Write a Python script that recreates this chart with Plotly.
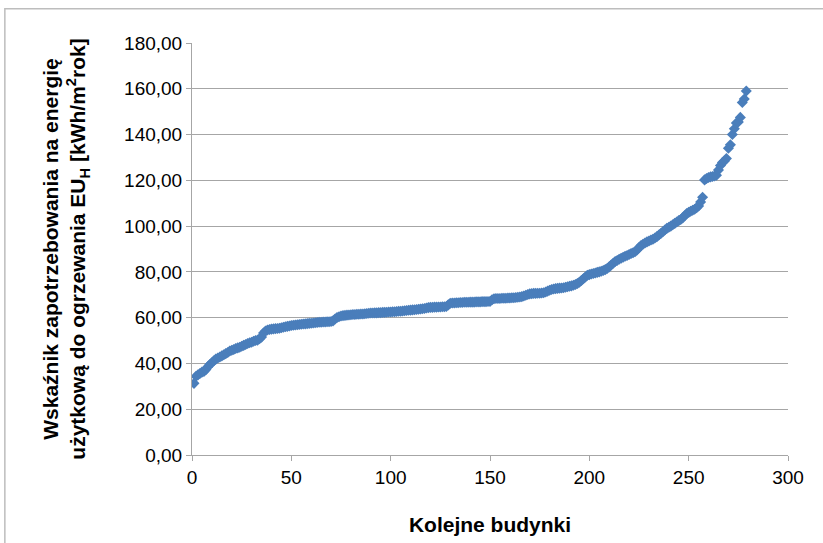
import plotly.graph_objects as go

# Building index (sorted) and heating-demand indicator EU_H [kWh/m2 rok]
eu_values = [
    31.3, 34.4, 35.0, 35.6, 36.2, 36.5, 37.3, 38.6, 39.5, 40.3,
    41.2, 41.9, 42.4, 42.8, 43.3, 43.8, 44.3, 44.8, 45.4, 45.8,
    46.1, 46.5, 46.8, 47.1, 47.5, 47.9, 48.3, 48.7, 49.0, 49.3,
    49.7, 50.0, 50.2, 50.8, 51.5, 53.3, 54.2, 54.6, 54.8, 55.0,
    55.1, 55.2, 55.3, 55.4, 55.6, 55.8, 56.0, 56.2, 56.4, 56.6,
    56.7, 56.8, 56.9, 57.0, 57.1, 57.2, 57.3, 57.4, 57.5, 57.6,
    57.7, 57.8, 57.9, 58.0, 58.0, 58.1, 58.1, 58.2, 58.2, 58.3,
    58.6, 59.4, 60.1, 60.4, 60.7, 60.9, 61.0, 61.1, 61.2, 61.3,
    61.4, 61.4, 61.5, 61.5, 61.6, 61.6, 61.7, 61.8, 61.9, 62.0,
    62.0, 62.1, 62.1, 62.2, 62.2, 62.3, 62.3, 62.4, 62.5, 62.5,
    62.6, 62.6, 62.7, 62.8, 62.8, 62.9, 63.0, 63.1, 63.2, 63.3,
    63.4, 63.5, 63.6, 63.7, 63.8, 63.9, 64.0, 64.2, 64.4, 64.5,
    64.5, 64.6, 64.6, 64.7, 64.7, 64.8, 64.8, 64.9, 65.6, 66.3,
    66.4, 66.4, 66.5, 66.5, 66.6, 66.6, 66.7, 66.7, 66.7, 66.8,
    66.8, 66.8, 66.9, 66.9, 66.9, 67.0, 67.0, 67.0, 67.1, 67.1,
    67.8, 68.3, 68.4, 68.4, 68.4, 68.5, 68.5, 68.5, 68.6, 68.6,
    68.7, 68.7, 68.8, 68.9, 69.0, 69.2, 69.5, 69.8, 70.1, 70.4,
    70.5, 70.6, 70.6, 70.7, 70.7, 70.8, 70.9, 71.2, 71.6, 72.0,
    72.3, 72.5, 72.7, 72.8, 72.9, 73.0, 73.1, 73.3, 73.5, 73.7,
    73.9, 74.2, 74.5, 74.9, 75.5, 76.2, 77.0, 77.8, 78.5, 78.8,
    79.1, 79.3, 79.5, 79.8, 80.0, 80.3, 80.6, 81.0, 81.5, 82.2,
    83.0, 83.8, 84.5, 85.0, 85.5, 86.0, 86.4, 86.8, 87.2, 87.6,
    88.0, 88.4, 88.8, 89.6, 90.6, 91.5, 92.1, 92.6, 93.1, 93.5,
    93.9, 94.3, 94.8, 95.4, 96.1, 96.8, 97.5, 98.3, 99.0, 99.5,
    100.0, 100.6, 101.2, 101.8, 102.4, 102.9, 103.6, 104.5, 105.5, 106.0,
    106.5, 106.9, 107.4, 108.0, 108.8, 110.5, 112.6, 120.2, 120.8, 121.2,
    121.5, 121.7, 121.9, 122.2, 124.5, 126.5, 127.8, 128.5, 129.5, 134.0,
    135.5, 140.0, 142.5, 145.0, 145.5, 147.5, 154.0, 155.5, 159.0,
]
building_idx = list(range(1, len(eu_values) + 1))

x_ticks = [0, 50, 100, 150, 200, 250, 300]
y_ticks = [0, 20, 40, 60, 80, 100, 120, 140, 160, 180]

x_title = "Kolejne budynki"
y_title = ("Wskaźnik zapotrzebowania na energię<br>"
           "użytkową do ogrzewania EU<sub>H</sub> [kWh/m<sup>2</sup>rok]")

grid_col = "#a6a6a6"
font_fam = "Liberation Sans, Arial, sans-serif"

fig = go.Figure()
fig.add_trace(go.Scatter(
    x=building_idx, y=eu_values, mode="markers",
    marker=dict(symbol="diamond", size=8.5, color="#4a7ebb",
                line=dict(width=0)),
    showlegend=False,
))

fig.update_layout(
    width=823, height=543,
    margin=dict(l=192, r=35, t=43, b=88),
    paper_bgcolor="white", plot_bgcolor="white",
    separators=", ",
    font=dict(family=font_fam, size=19, color="black"),
    xaxis=dict(
        range=[0, 300], tickvals=x_ticks, showgrid=False,
        showline=True, linecolor=grid_col, linewidth=1,
        ticks="outside", ticklen=5, tickcolor=grid_col,
        zeroline=False,
        title=dict(text="<b>" + x_title + "</b>",
                   font=dict(size=21), standoff=30),
    ),
    yaxis=dict(
        range=[0, 180], tickvals=y_ticks, tickformat=".2f",
        showgrid=True, gridcolor=grid_col, gridwidth=1,
        showline=True, linecolor=grid_col, linewidth=1,
        ticks="outside", ticklen=5, tickcolor=grid_col,
        zeroline=False,
        title=dict(text="<b>" + y_title + "</b>",
                   font=dict(size=21), standoff=32),
    ),
    shapes=[dict(type="rect", xref="paper", yref="paper",
                 x0=-0.314, x1=1.2, y0=-0.4, y1=1.0834,
                 line=dict(color="#bdbdbd", width=1.5),
                 fillcolor="rgba(0,0,0,0)", layer="below")],
)

fig.write_html(
    "out.html",
    config={"displayModeBar": False},
    post_script="document.body.style.margin='0px';"
                "document.body.style.overflow='hidden';",
)
